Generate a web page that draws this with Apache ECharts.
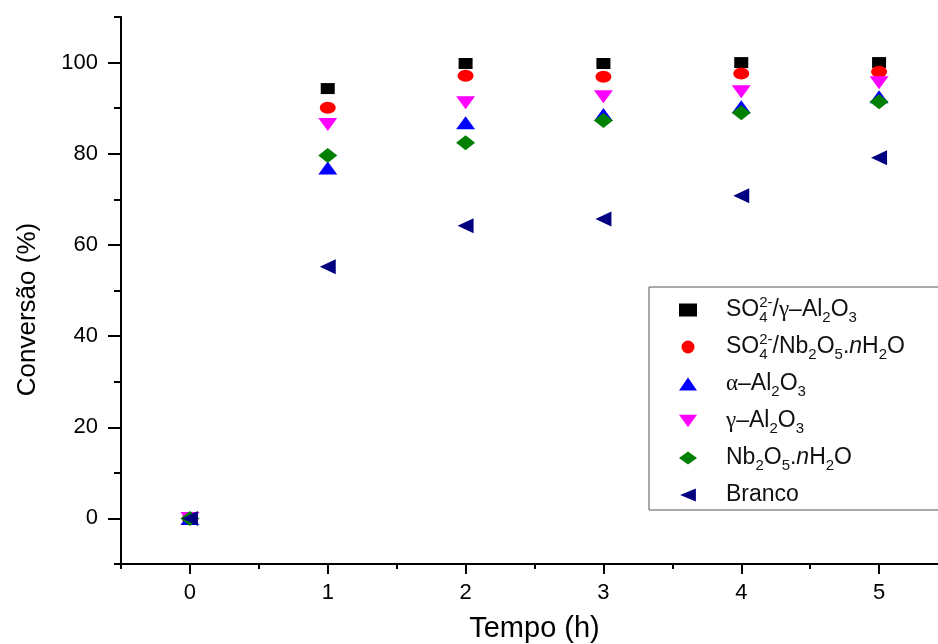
<!DOCTYPE html>
<html><head><meta charset="utf-8">
<script src="https://cdn.jsdelivr.net/npm/echarts@6/dist/echarts.min.js"></script>
<style>html,body{margin:0;padding:0;background:#fff}#c{width:938px;height:644px}</style>
</head><body><div id="c"></div>
<script>
var times = [0, 1, 2, 3, 4, 5];
var seriesNames = ['SO4/γ-Al2O3', 'SO4/Nb2O5.nH2O', 'α-Al2O3', 'γ-Al2O3', 'Nb2O5.nH2O', 'Branco'];
var legendLabels = [
  'SO{s0|4}{sp|2-}/{g|γ}–Al{sb|2}O{sb|3}',
  'SO{s0|4}{sp|2-}/Nb{sb|2}O{sb|5}.{i|n}H{sb|2}O',
  '{g|α}–Al{sb|2}O{sb|3}',
  '{g|γ}–Al{sb|2}O{sb|3}',
  'Nb{sb|2}O{sb|5}.{i|n}H{sb|2}O',
  'Branco'
];
var sulfGamma = [0, 94.3, 99.8, 99.8, 100.0, 100.0];
var sulfNb = [0, 90.1, 97.1, 96.9, 97.6, 98.0];
var alpha = [0, 76.9, 86.8, 88.6, 90.3, 92.5];
var gamma = [0, 86.4, 91.2, 92.5, 93.6, 95.6];
var nb = [0, 79.6, 82.4, 87.3, 89.0, 91.4];
var branco = [0, 55.2, 64.2, 65.7, 70.8, 79.1];
var yTickLabels = [0, 20, 40, 60, 80, 100];
var yMinorTicks = [-10, 10, 30, 50, 70, 90, 110];
var xTickLabels = [0, 1, 2, 3, 4, 5];
var xMinorTicks = [-0.5, 0.5, 1.5, 2.5, 3.5, 4.5, 5.5];

var values = [sulfGamma, sulfNb, alpha, gamma, nb, branco];
var colors = ['#000000', '#ff0000', '#0000ff', '#ff00ff', '#008000', '#000080'];
var symbols = ['rect', 'circle', 'triangle', 'triangle', 'diamond', 'triangle'];
var rotates = [0, 0, 0, 180, 0, 90];
var sizes = [[14, 11], [16, 12], [19, 13], [19, 13], [19, 15], [15, 16]];
var legendIcons = ['rect', 'circle', 'triangle', 'path://M0,0L20,0L10,14Z', 'diamond', 'path://M0,7L17,0L17,14Z'];
var FONT = 'Liberation Sans';

function pts(arr) { return times.map(function (t, i) { return [t, arr[i]]; }); }

var series = seriesNames.map(function (n, k) {
  return {
    name: n, type: 'scatter', xAxisIndex: 0, yAxisIndex: 0,
    data: pts(values[k]), symbol: symbols[k], symbolRotate: rotates[k], symbolSize: sizes[k],
    itemStyle: { color: colors[k], opacity: 1 }, z: 3 + k
  };
});

var legendData = seriesNames.map(function (n, k) {
  return { name: n, icon: legendIcons[k], itemStyle: { color: colors[k] } };
});

var chart = echarts.init(document.getElementById('c'), null, { renderer: 'canvas' });
chart.setOption({
  animation: false,
  backgroundColor: '#fff',
  grid: { left: 121, top: 17, width: 827, height: 547, containLabel: false, outerBoundsMode: 'none' },
  xAxis: [{
    type: 'value', min: -0.5, max: 5.5, position: 'bottom',
    name: 'Tempo (h)', nameLocation: 'middle', nameGap: 50,
    nameTextStyle: { fontFamily: FONT, fontSize: 29, color: '#000' },
    axisLine: { show: true, onZero: false, lineStyle: { color: '#000', width: 2 } },
    axisTick: { show: true, inside: false, length: 10, customValues: xTickLabels, lineStyle: { color: '#000', width: 2 } },
    axisLabel: { show: true, customValues: xTickLabels, margin: 18, fontFamily: FONT, fontSize: 22, color: '#000' },
    splitLine: { show: false }
  }, {
    type: 'value', min: -0.5, max: 5.5, position: 'bottom',
    axisLine: { show: false, onZero: false },
    axisTick: { show: true, inside: false, length: 5, customValues: xMinorTicks, lineStyle: { color: '#000', width: 2 } },
    axisLabel: { show: false }, splitLine: { show: false }
  }],
  yAxis: [{
    type: 'value', min: -10, max: 110, position: 'left',
    name: 'Conversão (%)', nameLocation: 'middle', nameGap: 80, nameRotate: 90,
    nameTextStyle: { fontFamily: FONT, fontSize: 26, color: '#000', padding: [0, 38, 0, 0] },
    axisLine: { show: true, onZero: false, lineStyle: { color: '#000', width: 2 } },
    axisTick: { show: true, inside: false, length: 13, customValues: yTickLabels, lineStyle: { color: '#000', width: 2 } },
    axisLabel: { show: true, customValues: yTickLabels, margin: 23, fontFamily: FONT, fontSize: 22, color: '#000' },
    splitLine: { show: false }
  }, {
    type: 'value', min: -10, max: 110, position: 'left',
    axisLine: { show: false, onZero: false },
    axisTick: { show: true, inside: false, length: 7, customValues: yMinorTicks, lineStyle: { color: '#000', width: 2 } },
    axisLabel: { show: false }, splitLine: { show: false }
  }],
  legend: {
    orient: 'vertical', left: 649, top: 287,
    data: legendData,
    itemWidth: 18, itemHeight: 13, itemGap: 7,
    padding: [8, 60, 0, 30],
    borderColor: '#555', borderWidth: 1, backgroundColor: '#fff',
    selectedMode: false,
    formatter: function (name) { return '{gap|}' + legendLabels[seriesNames.indexOf(name)]; },
    textStyle: {
      fontFamily: FONT, fontSize: 23, color: '#111', lineHeight: 30,
      rich: {
        gap: { width: 24 },
        sb: { fontFamily: FONT, fontSize: 15, verticalAlign: 'bottom', lineHeight: 16, color: '#111' },
        s0: { fontFamily: FONT, fontSize: 15, verticalAlign: 'bottom', lineHeight: 16, width: 0, color: '#111' },
        sp: { fontFamily: FONT, fontSize: 15, verticalAlign: 'top', lineHeight: 16, color: '#111' },
        g: { fontFamily: 'Liberation Serif', fontSize: 23, lineHeight: 30, color: '#111' },
        i: { fontFamily: FONT, fontStyle: 'italic', fontSize: 23, lineHeight: 30, color: '#111' }
      }
    }
  },
  series: series
});
</script></body></html>
